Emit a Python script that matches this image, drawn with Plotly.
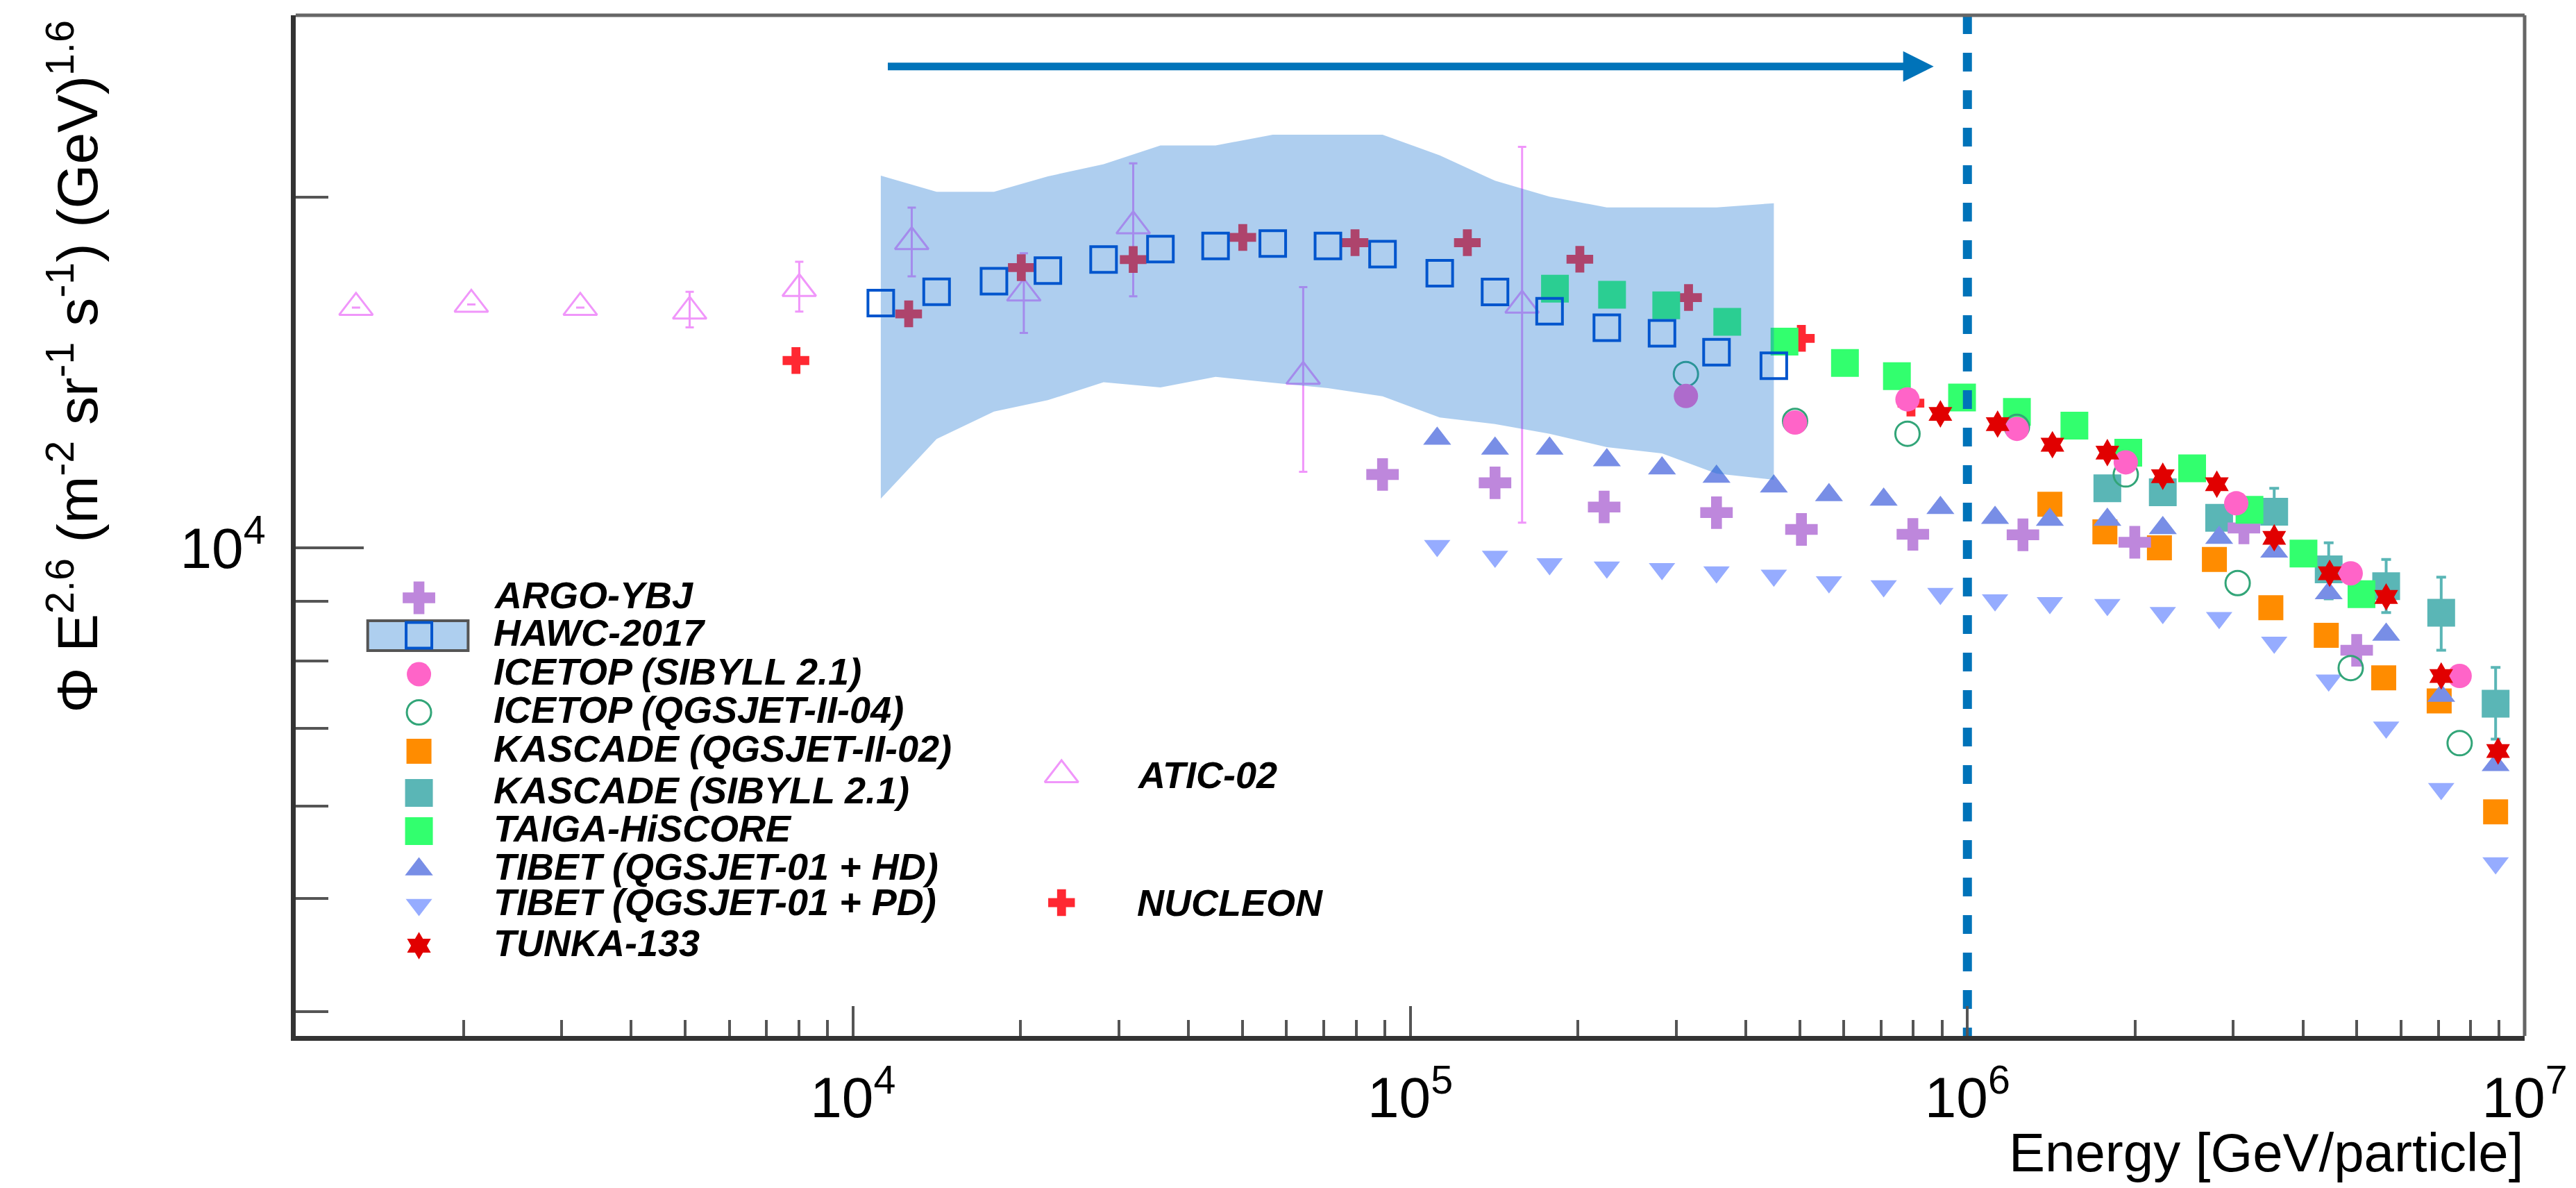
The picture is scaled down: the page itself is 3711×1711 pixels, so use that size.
import math
import plotly.graph_objects as go

# ---------------- data ----------------
ATIC_E = [1283, 2066, 3241, 5093, 8010, 12750, 20260, 31840, 64270, 158800]
ATIC_F = [16080, 16180, 16080, 15960, 16690, 18310, 16540, 18890, 14030, 16150]
ATIC_UP = [0, 0, 0, 630, 910, 1280, 1360, 2490, 2710, 5940]
ATIC_DN = [0, 0, 0, 500, 740, 1210, 1250, 2450, 2410, 5640]

NUCLEON_E = [7902, 12590, 20050, 31840, 50070, 79620, 126650, 201600, 315900, 503500, 792000]
NUCLEON_F = [14480, 15880, 17400, 17680, 18470, 18280, 18280, 17690, 16400, 15130, 13310]

HAWC_E = [11220, 14130, 17910, 22380, 28170, 35630, 44750, 56680, 71190, 89210,
          113000, 142000, 177900, 225400, 283100, 354600, 449400]
HAWC_F = [16220, 16590, 16940, 17300, 17680, 18050, 18160, 18250, 18160, 17870,
          17210, 16580, 15960, 15450, 15280, 14720, 14330]
HAWC_HI = [20870, 20210, 20210, 20840, 21350, 22150, 22150, 22630, 22630, 22630,
           21720, 20660, 20020, 19600, 19600, 19600, 19760]
HAWC_LO = [11020, 12400, 13090, 13390, 13870, 13730, 14020, 13860, 13710, 13490,
           12940, 12770, 12530, 12200, 12050, 11580, 11440]

ARGO_E = [89210, 142000, 222900, 354600, 503700, 798200, 1258000, 1997000, 3135000, 4996000]
ARGO_F = [11560, 11370, 10840, 10720, 10370, 10270, 10260, 10110, 10400, 8166]

TIBET_E = [111800, 142000, 177900, 225400, 283100, 354600, 449400, 564400, 707500, 894400,
           1121000, 1406000, 1783000, 2242000, 2830000, 3553000, 4450000, 5643000, 7084000, 8870000]
TIBET_HD_F = [12410, 12170, 12170, 11890, 11700, 11510, 11290, 11100, 11000, 10820,
              10610, 10570, 10570, 10400, 10200, 9927, 9143, 8424, 7464, 6510]
TIBET_PD_F = [10040, 9830, 9685, 9623, 9592, 9530, 9467, 9345, 9272, 9134,
              9017, 8970, 8935, 8796, 8707, 8294, 7697, 7012, 6211, 5362]

TAIGA_E = [181900, 230300, 288100, 370700, 469600, 602900, 747300, 978100,
           1227000, 1556000, 1944000, 2531000, 3208000, 4010000, 5096000]
TAIGA_F = [16690, 16490, 16150, 15630, 15030, 14410, 14040, 13460,
           13080, 12730, 12070, 11700, 10780, 9888, 9123]

TUNKA_E = [894400, 1133000, 1421000, 1783000, 2242000, 2803000, 3553000, 4468000, 5643000, 7084000, 8960000]
TUNKA_F = [13030, 12770, 12260, 12070, 11520, 11340, 10200, 9508, 9074, 7762, 6691]

KQ_E = [1406000, 1765000, 2211000, 2775000, 3504000, 4406000, 5586000, 7025000, 8870000]
KQ_F = [10900, 10320, 10000, 9773, 8883, 8410, 7733, 7388, 5934]

KS_E = [1783000, 2242000, 2830000, 3553000, 4450000, 5643000, 7084000, 8870000]
KS_F = [11250, 11160, 10610, 10740, 9583, 9268, 8796, 7348]
KS_UP = [250, 250, 250, 510, 517, 505, 641, 547]
KS_DN = [250, 250, 250, 460, 543, 471, 630, 498]

ICS_E = [312500, 490600, 780700, 1227000, 1924000, 3037000, 4874000, 7645000]
ICS_F = [13500, 12810, 13410, 12650, 11840, 10920, 9508, 7762]
ICQ_E = [312500, 490600, 780700, 1227000, 1924000, 3055000, 4874000, 7645000]
ICQ_F = [14100, 12850, 12530, 12700, 11560, 9327, 7884, 6796]

KNEE_E = 1e6
ARROW_E0, ARROW_E1, ARROW_F = 11500, 870000, 25900

X_TICKS = [1e3, 1e4, 1e5, 1e6, 1e7]
X_TICKTEXT = ["", "10<sup>4</sup>", "10<sup>5</sup>", "10<sup>6</sup>", "10<sup>7</sup>"]
Y_TICKS = [1e4]
Y_TICKTEXT = ["10<sup>4</sup>"]
X_MINOR = [m * 10 ** d for d in (3, 4, 5, 6) for m in range(2, 10)]
Y_MINOR = [4000, 5000, 6000, 7000, 8000, 9000, 20000]
X_RANGE = [3.0, 7.0]
Y_RANGE = [3.5809, 4.4572]

LEGEND_LEFT = ["ARGO-YBJ", "HAWC-2017", "ICETOP (SIBYLL 2.1)", "ICETOP (QGSJET-II-04)",
               "KASCADE (QGSJET-II-02)", "KASCADE (SIBYLL 2.1)", "TAIGA-HiSCORE",
               "TIBET (QGSJET-01 + HD)", "TIBET (QGSJET-01 + PD)", "TUNKA-133"]
LEGEND_RIGHT = ["ATIC-02", "NUCLEON"]

# ---------------- styles ----------------
FONT = "Liberation Sans, Arial, Helvetica, sans-serif"
C_ARGO = "rgb(190,135,220)"
C_HAWC = "rgb(0,85,205)"
C_BAND = "rgba(30,120,210,0.36)"
C_BAND_SOLID = "rgb(174,207,239)"
C_ICS = "rgb(255,100,200)"
C_ICQ = "rgb(50,165,120)"
C_KQ = "rgb(255,140,0)"
C_KS = "rgb(90,182,182)"
C_TAIGA = "rgb(50,255,110)"
C_THD = "rgb(120,142,230)"
C_TPD = "rgb(150,172,255)"
C_TUNKA = "rgb(225,0,0)"
C_ATIC = "rgb(240,150,250)"
C_NUC = "rgb(255,40,50)"
C_BLUE = "rgb(0,115,185)"

M = {
    "ARGO": dict(symbol="cross", size=39, color=C_ARGO),
    "HAWC": dict(symbol="square-open", size=37, color=C_HAWC, line=dict(width=4, color=C_HAWC)),
    "ICS": dict(symbol="circle", size=35, color=C_ICS),
    "ICQ": dict(symbol="circle-open", size=35, color=C_ICQ, line=dict(width=3, color=C_ICQ)),
    "KQ": dict(symbol="square", size=36, color=C_KQ),
    "KS": dict(symbol="square", size=40, color=C_KS),
    "TAIGA": dict(symbol="square", size=40, color=C_TAIGA),
    "THD": dict(symbol="triangle-up", size=35, color=C_THD),
    "TPD": dict(symbol="triangle-down", size=33, color=C_TPD),
    "TUNKA": dict(symbol="hexagram", size=30, color=C_TUNKA),
    "ATIC": dict(symbol="triangle-up-open", size=42, color=C_ATIC, line=dict(width=3, color=C_ATIC)),
    "NUC": dict(symbol="cross", size=32, color=C_NUC),
}

fig = go.Figure()


def pts(x, y, mk, err=None):
    fig.add_trace(go.Scatter(x=x, y=y, mode="markers", marker=mk, showlegend=False,
                             error_y=err, hoverinfo="skip"))


pts(ATIC_E, ATIC_F, M["ATIC"], dict(type="data", symmetric=False, array=ATIC_UP,
                                    arrayminus=ATIC_DN, color=C_ATIC, thickness=3, width=6))
pts(NUCLEON_E, NUCLEON_F, M["NUC"])
pts(KQ_E, KQ_F, M["KQ"])
pts(KS_E, KS_F, M["KS"], dict(type="data", symmetric=False, array=KS_UP,
                              arrayminus=KS_DN, color=C_KS, thickness=4, width=7))
pts(TIBET_E, TIBET_PD_F, M["TPD"])
pts(TIBET_E, TIBET_HD_F, M["THD"])
pts(ARGO_E, ARGO_F, M["ARGO"])
pts(TAIGA_E, TAIGA_F, M["TAIGA"])
pts(ICQ_E, ICQ_F, M["ICQ"])
pts(ICS_E, ICS_F, M["ICS"])
pts(TUNKA_E, TUNKA_F, M["TUNKA"])

# HAWC systematic band (drawn over the other points, semi transparent)
fig.add_trace(go.Scatter(x=HAWC_E + HAWC_E[::-1], y=HAWC_HI + HAWC_LO[::-1],
                         mode="lines", fill="toself", fillcolor=C_BAND,
                         line=dict(width=0, color="rgba(0,0,0,0)"),
                         showlegend=False, hoverinfo="skip"))
pts(HAWC_E, HAWC_F, M["HAWC"])

# knee line
fig.add_trace(go.Scatter(x=[KNEE_E, KNEE_E], y=[10 ** Y_RANGE[1], 10 ** Y_RANGE[0]],
                         mode="lines", line=dict(color=C_BLUE, width=13, dash="27px,27px"),
                         showlegend=False, hoverinfo="skip"))

# ---------------- legend (pixel-space overlay axes) ----------------
LX_M, LX_T = 604, 710
LY = [861, 915, 971, 1026, 1082, 1142, 1197, 1252, 1303, 1362]
RX_M, RX_T = 1532, 1639
RY = [1116, 1300]
left_keys = ["ARGO", "HAWC", "ICS", "ICQ", "KQ", "KS", "TAIGA", "THD", "TPD", "TUNKA"]

shapes = []
shapes.append(dict(type="rect", xref="x2", yref="y2", x0=530, x1=675, y0=894, y1=937,
                   fillcolor=C_BAND_SOLID, line=dict(color="#555555", width=4), layer="below"))
for key, yy in zip(left_keys, LY):
    fig.add_trace(go.Scatter(x=[LX_M], y=[yy], mode="markers", marker=M[key],
                             xaxis="x2", yaxis="y2", showlegend=False, hoverinfo="skip"))
for key, yy in zip(["ATIC", "NUC"], RY):
    fig.add_trace(go.Scatter(x=[RX_M], y=[yy], mode="markers", marker=M[key],
                             xaxis="x2", yaxis="y2", showlegend=False, hoverinfo="skip"))

LEG_FONT = dict(family=FONT, size=54, color="black", weight="bold", style="italic")
annotations = []
for name, yy in zip(LEGEND_LEFT, LY):
    annotations.append(dict(text=name, xref="x2", yref="y2", x=LX_T, y=yy - 4,
                            xanchor="left", yanchor="middle", showarrow=False,
                            font=LEG_FONT))
for name, yy in zip(LEGEND_RIGHT, RY):
    annotations.append(dict(text=name, xref="x2", yref="y2", x=RX_T, y=yy,
                            xanchor="left", yanchor="middle", showarrow=False,
                            font=LEG_FONT))

# arrow
annotations.append(dict(text="", x=math.log10(ARROW_E1), y=math.log10(ARROW_F),
                        ax=math.log10(ARROW_E0), ay=math.log10(ARROW_F),
                        xref="x", yref="y", axref="x", ayref="y", showarrow=True,
                        arrowhead=2, arrowwidth=11, arrowsize=0.8, arrowcolor=C_BLUE,
                        standoff=0, startstandoff=0))

# axis titles
annotations.append(dict(text="Energy [GeV/particle]", xref="paper", yref="paper",
                        x=1.0, y=-0.1143, xanchor="right", yanchor="middle", showarrow=False,
                        font=dict(family=FONT, size=78, color="black")))
annotations.append(dict(text="\u03a6 E<sup>2.6</sup> (m<sup>-2</sup> sr<sup>-1</sup> s<sup>-1</sup>) (GeV)<sup>1.6</sup>",
                        xref="paper", yref="paper", x=-0.0997, y=0.9966,
                        xanchor="center", yanchor="top", textangle=-90, showarrow=False,
                        font=dict(family=FONT, size=82, color="black")))

# frame top/right
shapes.append(dict(type="line", xref="paper", yref="paper", x0=0, x1=1, y0=1, y1=1,
                   line=dict(color="#666666", width=5)))
shapes.append(dict(type="line", xref="paper", yref="paper", x0=1, x1=1, y0=0, y1=1,
                   line=dict(color="#666666", width=5)))

fig.update_layout(
    width=3711, height=1711,
    margin=dict(l=426, r=66, t=22, b=219),
    paper_bgcolor="white", plot_bgcolor="white",
    showlegend=False,
    font=dict(family=FONT, color="black"),
    xaxis=dict(type="log", range=X_RANGE, showgrid=False, zeroline=False,
               showline=True, linecolor="#333333", linewidth=7,
               ticks="inside", ticklen=43, tickwidth=4, tickcolor="#555555",
               tickmode="array", tickvals=X_TICKS, ticktext=X_TICKTEXT,
               tickfont=dict(family=FONT, size=82, color="black"),
               ticklabelstandoff=12,
               minor=dict(tickmode="array", tickvals=X_MINOR, ticks="inside",
                          ticklen=23, tickwidth=4, tickcolor="#555555", showgrid=False)),
    yaxis=dict(type="log", range=Y_RANGE, showgrid=False, zeroline=False,
               showline=True, linecolor="#333333", linewidth=7,
               ticks="inside", ticklen=98, tickwidth=4, tickcolor="#555555",
               tickmode="array", tickvals=Y_TICKS, ticktext=Y_TICKTEXT,
               tickfont=dict(family=FONT, size=82, color="black"),
               ticklabelstandoff=20,
               minor=dict(tickmode="array", tickvals=Y_MINOR, ticks="inside",
                          ticklen=47, tickwidth=4, tickcolor="#555555", showgrid=False)),
    xaxis2=dict(overlaying="x", range=[426, 3645], visible=False, fixedrange=True),
    yaxis2=dict(overlaying="y", range=[1492, 22], visible=False, fixedrange=True),
    shapes=shapes,
    annotations=annotations,
)

fig.write_html("out.html")
